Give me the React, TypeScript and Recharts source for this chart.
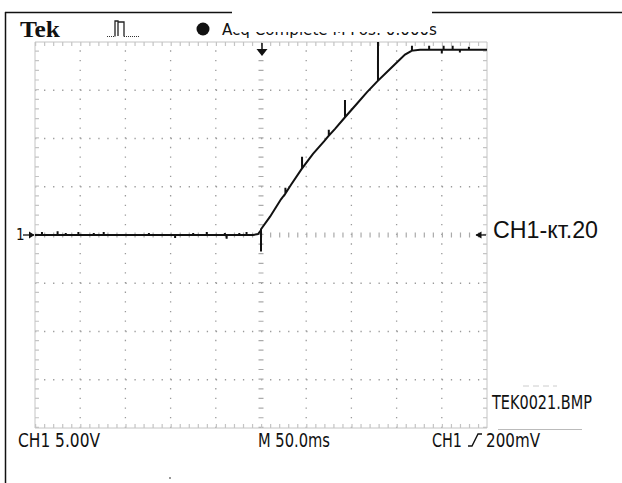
import { LineChart, Line, XAxis, YAxis, ReferenceLine } from 'recharts'

// graticule: 10 x 50ms, 8 x 5V
const gridTimes = [50, 100, 150, 200, 300, 350, 400, 450]
const gridVolts = [-15, -10, -5, 5, 10, 15]
const centerTime = 250
const centerVolt = 0

// CH1 trace (ms, V) with the small glitches seen on screen
const traceMs = [
    0, 7.7, 7.7, 7.7, 25, 25, 25, 34, 34, 34, 48, 48, 48, 65, 65, 65, 76, 76, 76,
    126, 126, 126, 155, 155, 155, 175, 175, 175, 190, 190, 190, 210, 210, 210,
    212, 212, 212, 226, 226, 226, 234, 234, 234, 241.2, 246.7, 250, 250, 250,
    260, 272.1, 277, 277, 277, 283.2, 295.4, 295.4, 295.4, 307.5, 319.7, 325, 325, 325,
    331.9, 342.9, 342.9, 342.9, 355.1, 367.3, 379.4, 379.4, 379.4, 391.6, 401.6,
    409.3, 417, 417, 417, 425.9, 436, 436, 436, 450, 450, 450, 452, 452, 452,
    462, 462, 462, 470, 470, 470, 480, 480, 480, 500,
]
const traceVolts = [
    0, 0, 0.3, 0, 0, 0.4, 0, 0, 0.2, 0, 0, 0.3, 0, 0, 0.2, 0, 0, 0.3, 0,
    0, 0.2, 0, 0, -0.3, 0, 0, 0.2, 0, 0, 0.3, 0, 0, 0.2, 0,
    0, -0.4, 0, 0, 0.2, 0, 0, 0.3, 0, 0, 0.1, 0.5, -1.7, 0.6,
    1.9, 3.7, 4.3, 4.9, 4.3, 5.2, 6.9, 8.1, 6.9, 8.4, 9.7, 10.3, 10.9, 10.3,
    11.0, 12.2, 14.0, 12.2, 13.5, 14.8, 16.0, 20.0, 16.0, 17.1, 18.0,
    18.7, 19.1, 19.6, 19.1, 19.2, 19.2, 19.6, 19.2, 19.2, 18.8, 19.2, 19.2, 19.6, 19.2,
    19.2, 19.6, 19.2, 19.2, 18.9, 19.2, 19.2, 19.5, 19.2, 19.2,
]

const data = traceMs.map((t, i) => ({ t, v: traceVolts[i] }))

const dotColor = '#9a9a9a'
const edgeColor = '#c4c4c4'
const narrow = '"Liberation Sans Narrow", "DejaVu Sans Condensed", "Liberation Sans", sans-serif'

const App = () => {
    return (
        <div style={{ position: 'absolute', left: 0, top: 0, width: 622, height: 483, background: '#fff' }}>
            <LineChart width={622} height={483} data={data} margin={{ top: 42, right: 135, bottom: 55, left: 35 }}>
                <XAxis type="number" dataKey="t" domain={[0, 500]} hide allowDataOverflow />
                <YAxis type="number" domain={[-20, 20]} hide allowDataOverflow />
                {gridTimes.map((t) => (
                    <ReferenceLine key={'gx' + t} x={t} stroke={dotColor} strokeWidth={1.3} strokeDasharray="1.3 8.35" />
                ))}
                {gridVolts.map((v) => (
                    <ReferenceLine key={'gy' + v} y={v} stroke={dotColor} strokeWidth={1.3} strokeDasharray="1.3 7.74" />
                ))}
                <ReferenceLine x={centerTime} stroke="#aaa" strokeWidth={5} strokeDasharray="1.2 8.45" />
                <ReferenceLine y={centerVolt} stroke="#aaa" strokeWidth={5} strokeDasharray="1.2 7.84" />
                {/* graticule border and its inward ticks */}
                <ReferenceLine x={0} stroke={edgeColor} />
                <ReferenceLine x={500} stroke={edgeColor} />
                <ReferenceLine y={20} stroke={edgeColor} />
                <ReferenceLine y={-20} stroke={edgeColor} />
                <ReferenceLine x={2.2} stroke={edgeColor} strokeWidth={4} strokeDasharray="1.2 8.45" />
                <ReferenceLine x={497.8} stroke={edgeColor} strokeWidth={4} strokeDasharray="1.2 8.45" />
                <ReferenceLine y={19.79} stroke={edgeColor} strokeWidth={4} strokeDasharray="1.2 7.84" />
                <ReferenceLine y={-19.79} stroke={edgeColor} strokeWidth={4} strokeDasharray="1.2 7.84" />
                <Line type="linear" dataKey="v" stroke="#111" strokeWidth={2} dot={false} isAnimationActive={false} />
            </LineChart>
            <svg width={622} height={483} style={{ position: 'absolute', left: 0, top: 0, pointerEvents: 'none' }}>
                <line x1={5.5} y1={12} x2={5.5} y2={483} stroke="#111" strokeWidth={1.5} />
                <line x1={5} y1={12.5} x2={233} y2={12.5} stroke="#111" strokeWidth={1.5} />
                <line x1={432} y1={12.5} x2={622} y2={12.5} stroke="#111" strokeWidth={1.5} />
                <text x={20} y={37} fontFamily='"Liberation Serif", serif' fontWeight="bold" fontSize={23} fill="#111" textLength={40} lengthAdjust="spacingAndGlyphs">
                    Tek
                </text>
                <path d="M107 36.5 H115 M124 36.5 H139" stroke="#333" strokeWidth={1.2} strokeDasharray="1 1" fill="none" />
                <path d="M115 36.5 V21 H118 V36 M118 22 H124 V36.5" stroke="#222" strokeWidth={1.3} fill="none" />
                <circle cx={203} cy={29} r={6.5} fill="#111" />
                <text x={222} y={35} fontFamily={narrow} fontSize={15} fill="#111" textLength={215} lengthAdjust="spacingAndGlyphs">
                    Acq Complete  M Pos: 0.000s
                </text>
                <rect x={232} y={0} width={198} height={32} fill="#fff" />
                <path d="M262 43 V50" stroke="#111" strokeWidth={1.5} />
                <path d="M256.5 49 L267.5 49 L262 56 Z" fill="#111" />
                <text x={16} y={240} fontFamily={narrow} fontSize={15} fill="#111">1</text>
                <path d="M23 235 H34" stroke="#111" strokeWidth={1.3} />
                <path d="M29 231.5 L34.5 235 L29 238.5 Z" fill="#111" />
                <path d="M476 235 H486" stroke="#111" strokeWidth={1.3} />
                <path d="M481.5 231.5 L475.5 235 L481.5 238.5 Z" fill="#111" />
                <text x={493} y={238} fontFamily='"Liberation Sans", Arial, sans-serif' fontSize={24} fill="#111" textLength={105} lengthAdjust="spacingAndGlyphs">
                    CH1-кт.20
                </text>
                <path d="M523 386 H557" stroke="#ccc" strokeWidth={1} strokeDasharray="6 4" />
                <text x={492} y={409} fontFamily={narrow} fontSize={19} fill="#111" textLength={100} lengthAdjust="spacingAndGlyphs">
                    TEK0021.BMP
                </text>
                <path d="M498 429.5 H582" stroke="#bbb" strokeWidth={1} />
                <text x={18} y={447} fontFamily={narrow} fontSize={19} fill="#111" textLength={82} lengthAdjust="spacingAndGlyphs">
                    CH1  5.00V
                </text>
                <text x={258} y={447} fontFamily={narrow} fontSize={19} fill="#111" textLength={72} lengthAdjust="spacingAndGlyphs">
                    M 50.0ms
                </text>
                <text x={432} y={447} fontFamily={narrow} fontSize={19} fill="#111" textLength={30} lengthAdjust="spacingAndGlyphs">
                    CH1
                </text>
                <path d="M468 446 H472 L478 434 H482" stroke="#111" strokeWidth={1.4} fill="none" />
                <text x={486} y={447} fontFamily={narrow} fontSize={19} fill="#111" textLength={54} lengthAdjust="spacingAndGlyphs">
                    200mV
                </text>
                <rect x={169} y={477} width={2} height={2} fill="#999" />
            </svg>
        </div>
    )
}

export default App
